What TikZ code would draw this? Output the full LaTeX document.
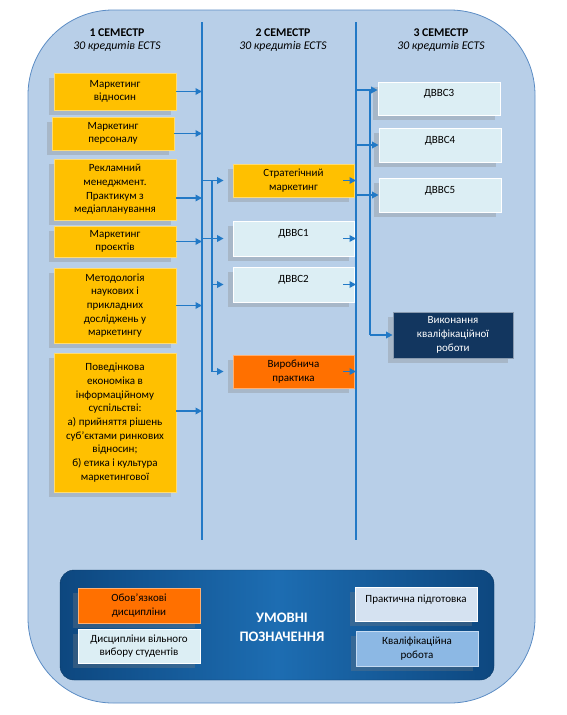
\documentclass[tikz,border=0pt]{standalone}
\usepackage{fontspec}
\setmainfont{Carlito}
\usetikzlibrary{arrows.meta,shadows}
\definecolor{bgblue}{HTML}{B8CFE8}
\definecolor{edgeblue}{HTML}{5B8CC4}
\definecolor{busblue}{HTML}{2279C6}
\definecolor{coreyel}{HTML}{FFC000}
\definecolor{prorange}{HTML}{FF7000}
\definecolor{elecyan}{HTML}{DCEEF4}
\definecolor{thesnavy}{HTML}{12365F}
\definecolor{panelout}{HTML}{0D477F}
\definecolor{panelmid}{HTML}{1D6DB2}
\definecolor{pracgrey}{HTML}{D5E2F1}
\definecolor{qualblue}{HTML}{8CB8E4}

\begin{document}
\begin{tikzpicture}[x=1pt,y=-1pt,font=\fontsize{11}{13.7}\selectfont,
    box/.style={align=center,inner sep=1pt,minimum width=122pt,
                drop shadow={shadow xshift=-5pt,shadow yshift=-5pt,opacity=.3}},
    core/.style={box,fill=coreyel,draw=coreyel!55!white,line width=.8pt},
    elec/.style={box,fill=elecyan,draw=white,line width=.8pt,text depth=11pt},
    prac/.style={box,fill=prorange,draw=prorange!55!white,line width=.8pt},
    thes/.style={box,fill=thesnavy,draw=thesnavy!50!white,line width=.8pt,text=white},
    head/.style={align=center,font=\fontsize{11.8}{13}\selectfont},
    bus/.style={busblue,line width=2pt},
    arr/.style={-{Triangle[length=6.5pt,width=6.5pt]},busblue,line width=1.8pt}]

  \useasboundingbox (0,0) rectangle (567,715);
  \draw[edgeblue,fill=bgblue,line width=.8pt,rounded corners=85pt] (28,10) rectangle (535,703);

  % semester heads
  \node[head] (s1) at (117,40.5) {\textbf{1 СЕМЕСТР}\\\textit{30 кредитів ECTS}};
  \node[head] (s2) at (283,40.5) {\textbf{2 СЕМЕСТР}\\\textit{30 кредитів ECTS}};
  \node[head] (s3) at (441,40.5) {\textbf{3 СЕМЕСТР}\\\textit{30 кредитів ECTS}};

  \coordinate (l1) at (202,22);  \coordinate (l1e) at (202,540);
  \coordinate (l2) at (356,22);  \coordinate (l2e) at (356,540);
  \coordinate (b2) at (212,178); \coordinate (b3) at (370,90);

  % 1 semester
  \node[core,minimum height=37pt] (mv) at (115,91.5) {Маркетинг\\відносин};
  \node[core,minimum height=33pt] (mp) at (113,133.5) {Маркетинг\\персоналу};
  \node[core,minimum height=61pt] (rm) at (115,189.5)
    {Рекламний\\менеджмент.\\Практикум з\\медіапланування};
  \node[core,minimum height=31pt] (mpr) at (115,241.5) {Маркетинг\\проєктів};
  \node[core,minimum height=75pt] (met) at (115,305.5)
    {Методологія\\наукових і\\прикладних\\досліджень у\\маркетингу};
  \node[core,minimum height=139pt] (pe) at (115,422.5)
    {Поведінкова\\економіка в\\інформаційному\\суспільстві:\\а) прийняття рішень\\суб'єктами ринкових\\відносин;\\б) етика і культура\\маркетингової};

  % 2 semester
  \node[core,minimum width=121pt,minimum height=33pt] (sm) at (293.5,180.5) {Стратегічний\\маркетинг};
  \node[elec,minimum width=121pt,minimum height=35pt] (d1) at (293.5,238.5) {ДВВС1};
  \node[elec,minimum width=121pt,minimum height=35pt] (d2) at (293.5,284.5) {ДВВС2};
  \node[prac,minimum width=121pt,minimum height=33pt] (vp) at (293.5,371.5) {Виробнича\\практика};

  % 3 semester
  \node[elec,minimum height=33pt] (d3) at (439,98.5) {ДВВС3};
  \node[elec,minimum height=34pt] (d4) at (440,145) {ДВВС4};
  \node[elec,minimum height=34pt] (d5) at (440,195) {ДВВС5};
  \node[thes,minimum width=120pt,minimum height=46pt] (vk) at (453,335)
    {Виконання\\кваліфікаційної\\роботи};

  \draw[bus] (l1) -- (l1e);
  \draw[bus] (l2) -- (l2e);

  \coordinate (rmo) at ([yshift=-8.5pt]rm.east);
  \coordinate (peo) at ([yshift=11.5pt]pe.east);
  \coordinate (d3i) at ([yshift=8.5pt]d3.west);
  \foreach \a in {mv,mp,rmo,mpr,met,peo}
    \draw[arr] (\a.east) -- (\a.east -| l1);

  \draw[bus] (b2 |- sm) -- (b2 |- vp);
  \draw[arr,shorten >=9pt] (l1 |- sm) -- (sm.west);
  \draw[arr,shorten >=9pt] (l1 |- d1) -- (d1.west);
  \draw[arr,shorten >=9pt] (b2 |- d2) -- (d2.west);
  \draw[arr,shorten >=9pt] (b2 |- vp) -- (vp.west);
  \foreach \a in {sm,d1,d2,vp}
    \draw[arr] ([xshift=-11pt]\a.east) -- (\a.east -| l2);

  \draw[bus] (b3 |- d3i) -- (b3 |- vk);
  \draw[arr] (l2 |- d3i) -- (d3i);
  \draw[arr] (l2 |- d4) -- (d4.west);
  \draw[arr] (l2 |- d5) -- (d5.west);
  \draw[arr] (b3 |- vk) -- (vk.west);

  % legend
  \node[draw=panelout!80!black,left color=panelout,right color=panelout,middle color=panelmid,
        rounded corners=14pt,minimum width=434pt,minimum height=110pt] (leg) at (277,625) {};
  \node[prac,minimum height=35pt] (lgob) at (139,605.5) {Обов’язкові\\дисципліни};
  \node[box,fill=elecyan,draw=white,minimum height=34pt] (lgvyb) at (139,646)
    {Дисципліни вільного\\вибору студентів};
  \node[box,fill=pracgrey,draw=white,text depth=11pt,minimum height=34pt] (lgpr) at (416,604)
    {Практична підготовка};
  \node[box,fill=qualblue,draw=qualblue!50!white,minimum height=35pt] (lgkv) at (417,648.5)
    {Кваліфікаційна\\робота};
  \node[align=center,text=white,font=\fontsize{14.5}{19}\selectfont\bfseries] (lgt) at (282,627.5)
    {УМОВНІ\\ПОЗНАЧЕННЯ};
\end{tikzpicture}
\end{document}
